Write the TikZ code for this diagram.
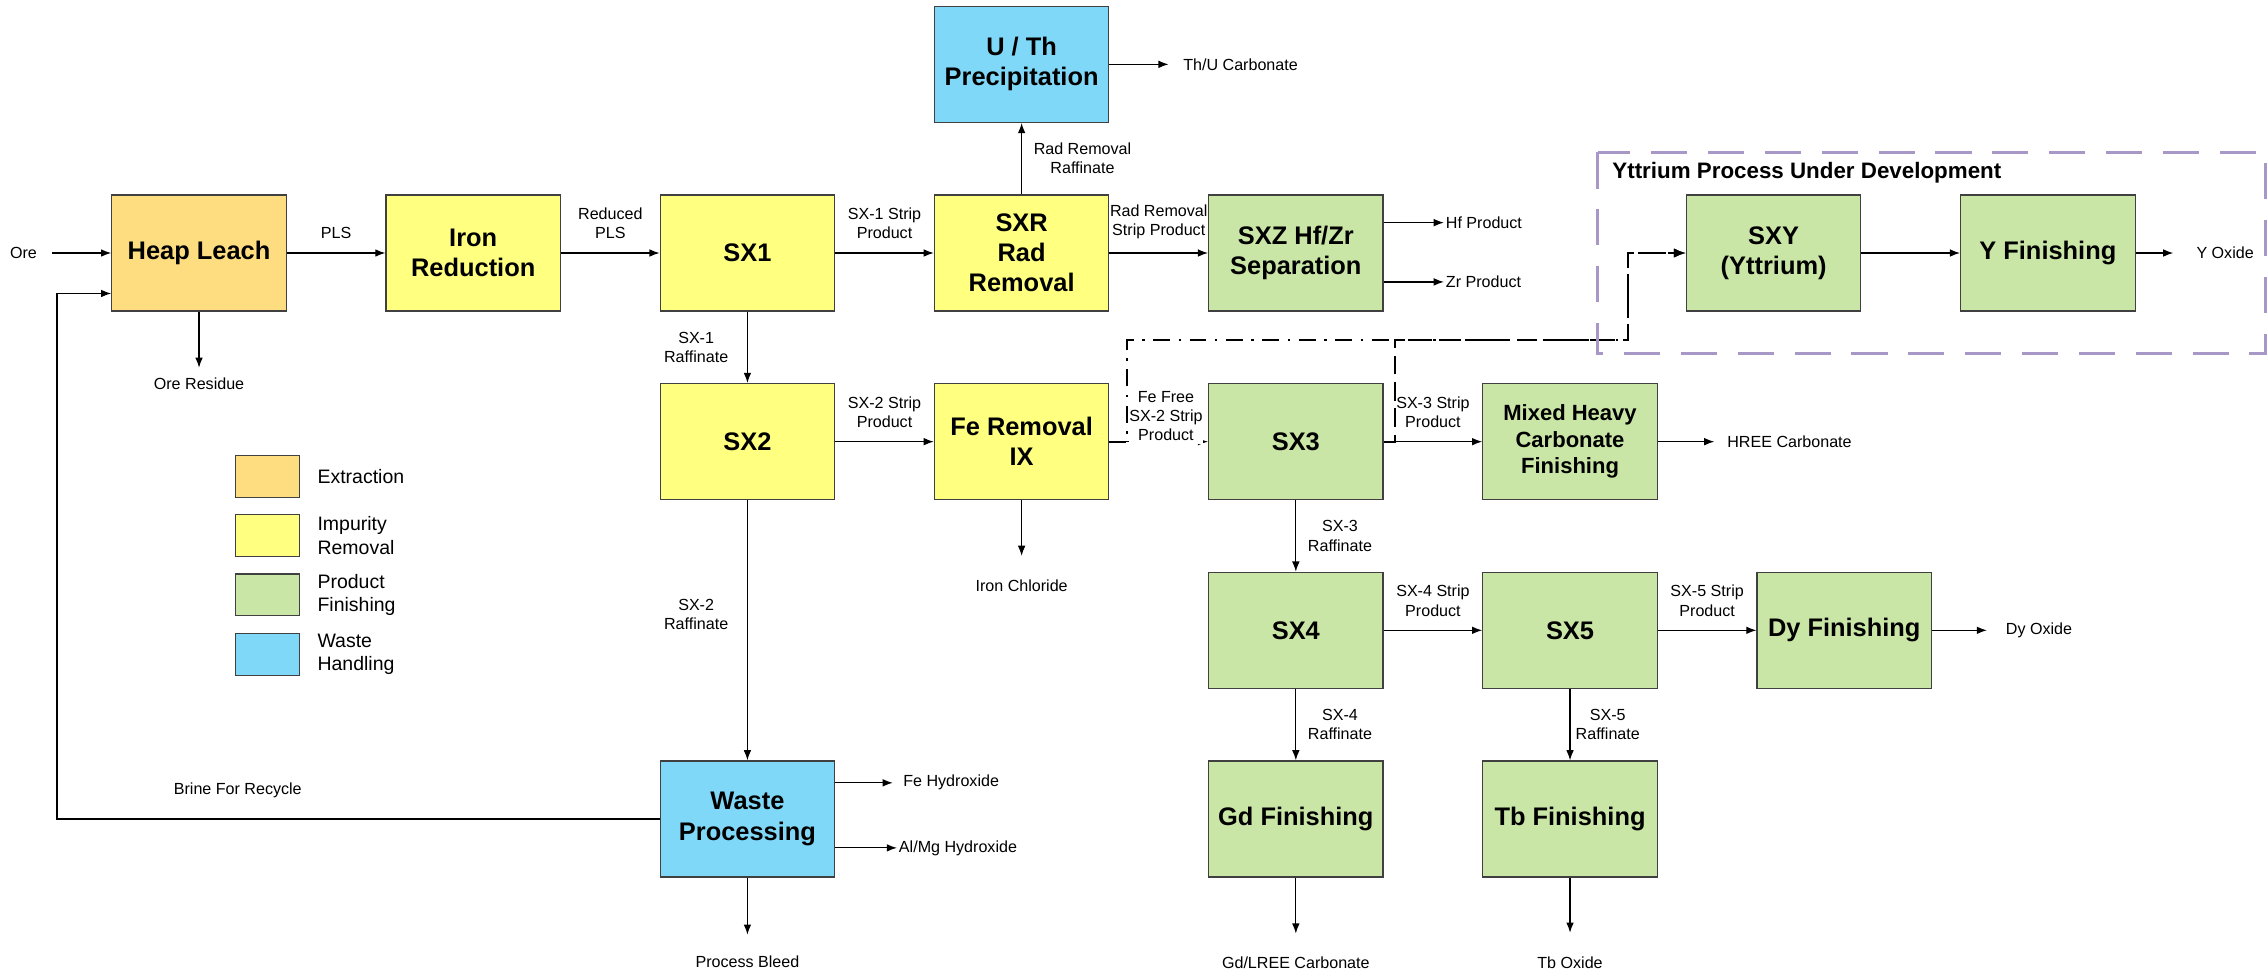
\documentclass[tikz,border=0pt]{standalone}
\usepackage{fontspec}
\setmainfont{Liberation Sans}
\usetikzlibrary{positioning,arrows.meta}

\definecolor{extractcol}{RGB}{253,221,128}
\definecolor{impcol}{RGB}{255,255,128}
\definecolor{prodcol}{RGB}{202,230,166}
\definecolor{wastecol}{RGB}{128,216,248}
\definecolor{devcol}{RGB}{167,152,200}

\tikzset{
  stage/.style={draw=black!75, line width=0.7pt, minimum width=3.62cm, minimum height=2.41cm, inner sep=1pt, align=center, font=\fontsize{15}{17.8}\selectfont\bfseries},
  extract/.style={stage, fill=extractcol},
  impure/.style={stage, fill=impcol},
  prod/.style={stage, fill=prodcol},
  waste/.style={stage, fill=wastecol},
  flow/.style={line width=0.7pt, -{Latex[length=6pt,width=4.5pt]}},
  lbl/.style={font=\fontsize{9.5}{11.3}\selectfont, align=center, inner sep=1pt},
  outp/.style={font=\fontsize{9.5}{11.3}\selectfont, inner sep=1pt},
  devbox/.style={draw=devcol, line width=1.7pt, dash pattern=on 0.75cm off 0.43cm},
  devline/.style={line width=1.1pt, dash pattern=on 10pt off 5pt on 1.5pt off 5pt, -{Latex[length=7pt,width=5.5pt]}},
  devline2/.style={line width=1.1pt, dash pattern=on 11pt off 4.5pt, -{Latex[length=7pt,width=5.5pt]}},
  devtitle/.style={font=\fontsize{13.2}{16}\selectfont\bfseries, inner sep=0pt},
  keybox/.style={draw=black!75, line width=0.7pt, minimum width=1.32cm, minimum height=0.87cm},
  keytext/.style={font=\fontsize{11.5}{14}\selectfont, align=left, inner sep=0pt}
}

\begin{document}
\begin{tikzpicture}
  \useasboundingbox (0,0) rectangle (47.04,-20.19);
  % Define nodes
  \node[extract] (heap) at (4.13,-5.25) {Heap Leach};
  \node[impure, right=2.045cm of heap] (iron) {Iron\\Reduction};
  \node[impure, right=2.045cm of iron] (sx1) {SX1};
  \node[impure, right=2.045cm of sx1] (sxr) {SXR\\Rad\\Removal};
  \node[waste, above=1.48cm of sxr] (uth) {U / Th\\Precipitation};
  \node[prod, right=2.045cm of sxr] (sxz) {SXZ Hf/Zr\\Separation};
  \node[impure, below=1.48cm of sx1] (sx2) {SX2};
  \node[impure, right=2.045cm of sx2] (feix) {Fe Removal\\IX};
  \node[prod, right=2.045cm of feix] (sx3) {SX3};
  \node[prod, right=2.045cm of sx3, font=\fontsize{13}{15.7}\selectfont\bfseries] (mixed) {Mixed Heavy\\Carbonate\\Finishing};
  \node[prod, below=1.48cm of sx3] (sx4) {SX4};
  \node[prod, right=2.045cm of sx4] (sx5) {SX5};
  \node[prod, right=2.045cm of sx5] (dy) {Dy Finishing};
  \node[prod, below=1.48cm of sx4] (gd) {Gd Finishing};
  \node[prod, below=1.48cm of sx5] (tb) {Tb Finishing};
  \node[waste] (waste) at (sx2 |- gd) {Waste\\Processing};
  \node[prod, right=6.27cm of sxz] (sxy) {SXY\\(Yttrium)};
  \node[prod, right=2.045cm of sxy] (yfin) {Y Finishing};
  % feeds and products
  \node[outp, left=1.5cm of heap] (ore) {Ore};
  \node[outp, below=1.34cm of heap] (oreres) {Ore Residue};
  \node[outp, right=1.49cm of uth] (thu) {Th/U Carbonate};
  \node[outp, right=1.25cm of sxz, yshift=0.63cm] (hf) {Hf Product};
  \node[outp, right=1.25cm of sxz, yshift=-0.6cm] (zr) {Zr Product};
  \node[outp, below=1.61cm of feix] (ironcl) {Iron Chloride};
  \node[outp, right=1.4cm of mixed] (hree) {HREE Carbonate};
  \node[outp, right=1.49cm of dy] (dyox) {Dy Oxide};
  \node[outp, below=1.6cm of gd] (gdout) {Gd/LREE Carbonate};
  \node[outp, below=1.6cm of tb] (tbout) {Tb Oxide};
  \node[outp, below=1.57cm of waste] (bleed) {Process Bleed};
  \node[outp, right=1.37cm of waste, yshift=0.75cm] (feoh) {Fe Hydroxide};
  \node[outp, right=1.28cm of waste, yshift=-0.6cm] (almg) {Al/Mg Hydroxide};
  \node[outp, right=1.22cm of yfin] (yox) {Y Oxide};
  % legend
  \foreach \col/\txt [count=\i] in {extractcol/Extraction, impcol/{Impurity\\Removal}, prodcol/{Product\\Finishing}, wastecol/{Waste\\Handling}} {
    \node[keybox, fill=\col] (key\i) at (5.55,{-9.885-1.23*(\i-1)}) {};
    \node[keytext, right=0.36cm of key\i] (keytxt\i) {\txt};
  }
  % main process line
  \draw[flow, shorten <=8pt] (ore) -- (heap);
  \draw[flow] (heap) -- node[lbl, above=7pt] {PLS} (iron);
  \draw[flow] (iron) -- node[lbl, above=7pt] {Reduced\\PLS} (sx1);
  \draw[flow] (sx1) -- node[lbl, above=7pt] {SX-1 Strip\\Product} (sxr);
  \draw[flow] (sxr) -- node[lbl, right=5.8pt] {Rad Removal\\Raffinate} (uth);
  \draw[flow] (sxr) -- node[lbl, above=7pt] {Rad Removal\\Strip Product} (sxz);
  \draw[flow] (sx1) -- node[lbl, left=10pt] {SX-1\\Raffinate} (sx2);
  \draw[flow] (sx2) -- node[lbl, above=7pt] {SX-2 Strip\\Product} (feix);
  \draw[flow] (sx2) -- node[lbl, left=10pt, pos=0.44] {SX-2\\Raffinate} (waste);
  \draw[flow] (feix) -- node[lbl, above=-2pt, xshift=0.15cm, fill=white, inner xsep=0pt, inner ysep=2pt] {Fe Free\\SX-2 Strip\\Product} (sx3);
  \draw[flow] (sx3) -- node[lbl, above=7pt] {SX-3 Strip\\Product} (mixed);
  \draw[flow] (sx3) -- node[lbl, right=5.8pt] {SX-3\\Raffinate} (sx4);
  \draw[flow] (sx4) -- node[lbl, above=7pt] {SX-4 Strip\\Product} (sx5);
  \draw[flow] (sx5) -- node[lbl, above=7pt] {SX-5 Strip\\Product} (dy);
  \draw[flow] (sx4) -- node[lbl, right=5.8pt] {SX-4\\Raffinate} (gd);
  \draw[flow] (sx5) -- node[lbl, right=2pt] {SX-5\\Raffinate} (tb);
  \draw[flow] (sxy) -- (yfin);
  % brine recycle
  \draw[flow] (waste.west) -| node[lbl, pos=0.35, above=11pt] {Brine For Recycle} ([xshift=-1.125cm, yshift=-0.84cm]heap.west) -- ([yshift=-0.84cm]heap.west);
  % products out
  \draw[flow, shorten >=5pt] (heap) -- (oreres);
  \draw[flow, shorten >=7.5pt] (uth) -- (thu);
  \draw[flow] (sxz.east |- hf) -- (hf);
  \draw[flow] (sxz.east |- zr) -- (zr);
  \draw[flow, shorten >=13pt] (feix) -- (ironcl);
  \draw[flow, shorten >=6.5pt] (mixed) -- (hree);
  \draw[flow, shorten >=10pt] (dy) -- (dyox);
  \draw[flow, shorten >=12.5pt] (gd) -- (gdout);
  \draw[flow, shorten >=13pt] (tb) -- (tbout);
  \draw[flow, shorten >=11pt] (waste) -- (bleed);
  \draw[flow, shorten >=5pt] (waste.east |- feoh) -- (feoh);
  \draw[flow] (waste.east |- almg) -- (almg);
  \draw[flow, shorten >=12.5pt] (yfin) -- (yox);
  % yttrium branch under development
  \coordinate (bus) at ([yshift=0.9cm]sx3.north);
  \coordinate (ylead) at ([xshift=-1.2cm]sxy.west);
  \draw[devline] (feix.east) -- ++(0.36,0) |- (ylead |- bus) |- (sxy.west);
  \draw[devline2] (sx3.east) -- ++(0.24,0) |- (ylead |- bus) |- (sxy.west);
  \coordinate (ynw) at ([xshift=-1.83cm,yshift=0.87cm]sxy.north west);
  \coordinate (yse) at ([xshift=2.7cm,yshift=-0.87cm]yfin.south east);
  \draw[devbox] (ynw) rectangle (yse);
  \node[devtitle, anchor=west] (ytitle) at ([xshift=0.3cm,yshift=-0.42cm]ynw) {Yttrium Process Under Development};
\end{tikzpicture}
\end{document}
